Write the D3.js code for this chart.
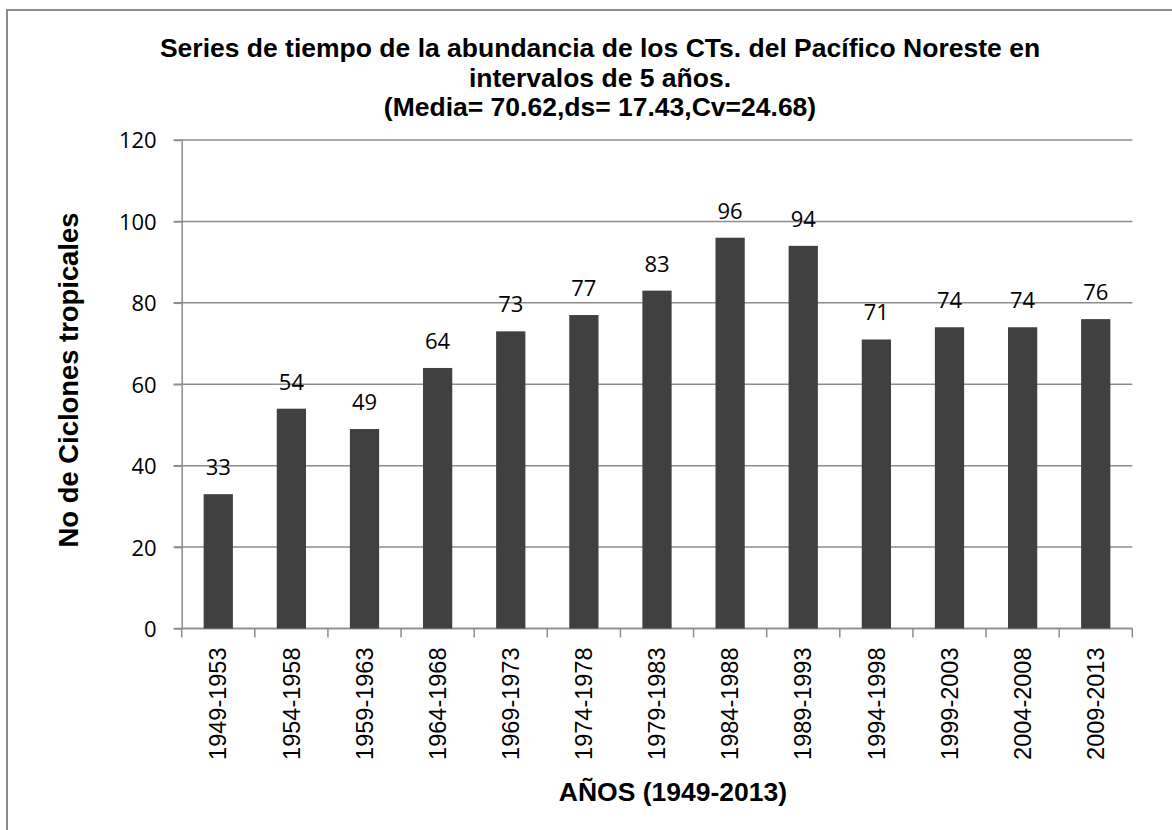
<!DOCTYPE html>
<html lang="es">
<head>
<meta charset="UTF-8">
<title>Series de tiempo CTs Pacífico Noreste</title>
<script src="https://d3js.org/d3.v7.min.js"></script>
<style>
  body { margin: 0; background: #fff; }
  .grid line { stroke: #8c8c8c; stroke-width: 1.5; }
  .title, .axis-title { font-family: "Liberation Sans", Arial, sans-serif; font-weight: bold; fill: #000; }
  .xlab { font-family: "Liberation Sans", Arial, sans-serif; font-size: 23.5px; fill: #000; }
  .ylab, .val { font-family: "Open Sans", sans-serif; font-size: 22px; fill: #000; }
</style>
</head>
<body>
<script>
// data
const periods = ["1949-1953", "1954-1958", "1959-1963", "1964-1968", "1969-1973", "1974-1978",
  "1979-1983", "1984-1988", "1989-1993", "1994-1998", "1999-2003", "2004-2008", "2009-2013"];
const counts = [33, 54, 49, 64, 73, 77, 83, 96, 94, 71, 74, 74, 76];
const yTicks = [0, 20, 40, 60, 80, 100, 120];
const titleLines = [
  "Series de tiempo de la abundancia de los CTs. del Pacífico Noreste en",
  "intervalos de 5 años.",
  "(Media= 70.62,ds= 17.43,Cv=24.68)"
];

const W = 1172, H = 830;
const plot = {left: 181.7, right: 1132.3, top: 140, bottom: 628.5};

const svg = d3.select("body").append("svg")
  .attr("width", W)
  .attr("height", H);

// outer frame (only top/left edges visible in the crop)
svg.append("rect")
  .attr("x", 7).attr("y", 10)
  .attr("width", W + 20).attr("height", H + 20)
  .attr("fill", "none")
  .attr("stroke", "#8c8c8c")
  .attr("stroke-width", 2);

const x = d3.scaleBand().domain(periods).range([plot.left, plot.right]).paddingInner(0.6).paddingOuter(0.3);
const y = d3.scaleLinear().domain([0, 120]).range([plot.bottom, plot.top]);

// horizontal grid
svg.append("g").attr("class", "grid")
  .selectAll("line").data(yTicks).enter().append("line")
  .attr("x1", plot.left - 8).attr("x2", plot.right)
  .attr("y1", d => y(d)).attr("y2", d => y(d));

// y axis
const yAxis = svg.append("g")
  .attr("transform", `translate(${plot.left},0)`)
  .call(d3.axisLeft(y).tickValues(yTicks).tickSize(8).tickSizeOuter(0).tickPadding(17));
yAxis.select(".domain").attr("stroke", "#8c8c8c").attr("stroke-width", 1.5);
yAxis.selectAll(".tick line").attr("stroke", "#8c8c8c").attr("stroke-width", 1.5);
yAxis.selectAll(".tick text").attr("class", "ylab").attr("fill", "#000").attr("dy", "0.36em");

// x axis: ticks sit on the category boundaries
const step = x.step();
const bounds = periods.map(p => x(p) - (step - x.bandwidth()) / 2).concat([plot.right]);
const xAxis = svg.append("g")
  .attr("transform", `translate(0,${plot.bottom})`);
xAxis.append("line")
  .attr("x1", plot.left).attr("x2", plot.right)
  .attr("stroke", "#8c8c8c").attr("stroke-width", 1.5);
xAxis.selectAll(".xt").data(bounds).enter().append("line")
  .attr("x1", d => d).attr("x2", d => d)
  .attr("y1", 0).attr("y2", 9)
  .attr("stroke", "#8c8c8c").attr("stroke-width", 1.5);
xAxis.selectAll(".xlab").data(periods).enter().append("text")
  .attr("class", "xlab")
  .attr("transform", d => `translate(${x(d) + x.bandwidth() / 2},${19}) rotate(-90)`)
  .attr("text-anchor", "end")
  .attr("dy", "0.35em")
  .text(d => d);

// bars
svg.selectAll(".bar").data(counts).enter().append("rect")
  .attr("class", "bar")
  .attr("x", (d, i) => x(periods[i]))
  .attr("width", x.bandwidth())
  .attr("y", d => y(d))
  .attr("height", d => y(0) - y(d))
  .attr("fill", "#404040");

// value labels
svg.selectAll(".val").data(counts).enter().append("text")
  .attr("class", "val")
  .attr("x", (d, i) => x(periods[i]) + x.bandwidth() / 2)
  .attr("y", d => y(d) - 19)
  .attr("text-anchor", "middle")
  .text(d => d);

// title
svg.append("text").attr("class", "title")
  .attr("text-anchor", "middle")
  .attr("font-size", 26.5)
  .selectAll("tspan").data(titleLines).enter().append("tspan")
  .attr("x", 600)
  .attr("y", (d, i) => 57 + i * 29.5)
  .text(d => d);

// axis titles
svg.append("text").attr("class", "axis-title")
  .attr("font-size", 26.5)
  .attr("text-anchor", "middle")
  .attr("x", 673).attr("y", 801)
  .text("AÑOS (1949-2013)");

svg.append("text").attr("class", "axis-title")
  .attr("font-size", 27.4)
  .attr("text-anchor", "middle")
  .attr("transform", "translate(78,380) rotate(-90)")
  .text("No de Ciclones tropicales");
</script>
</body>
</html>
